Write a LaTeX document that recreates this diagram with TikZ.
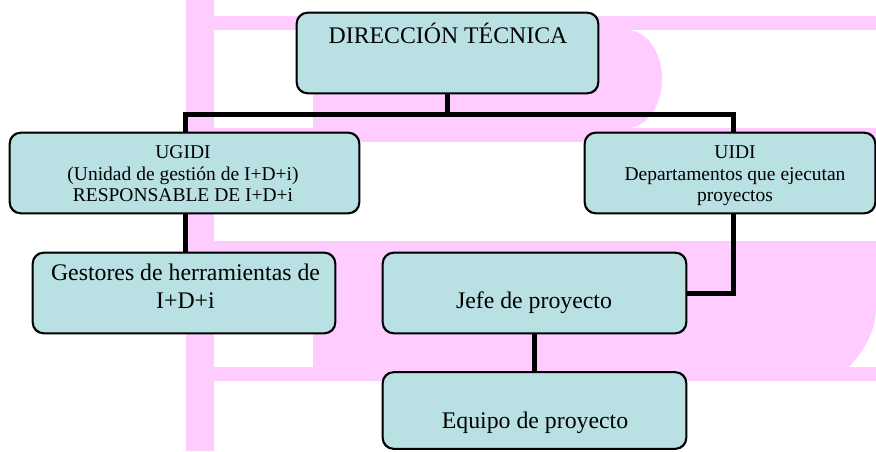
\documentclass[tikz,border=0pt]{standalone}
\usepackage{fontspec}
\setmainfont{Liberation Serif}
\definecolor{pinkbg}{RGB}{255,204,255}
\definecolor{boxfill}{RGB}{185,224,227}
\tikzset{
  box/.style={draw=black, line width=1.3pt, rounded corners=11pt, fill=boxfill, inner sep=0pt},
  conn/.style={line width=5pt, draw=black, line join=miter},
  bigtxt/.style={font=\fontsize{23.8}{28}\selectfont, inner sep=0pt, anchor=base},
  smalltxt/.style={font=\fontsize{19.5}{22}\selectfont, inner sep=0pt, anchor=base},
  wm/.style={fill=pinkbg, draw=none}
}
\begin{document}
\begin{tikzpicture}[x=1pt,y=-1pt]
\useasboundingbox (0,0) rectangle (876,451);
% watermark
\fill[wm] (186,0) rectangle (214,451);
\fill[wm] (214,16) rectangle (876,30);
\fill[wm] (214,128) rectangle (876,142);
\fill[wm] (313,30) -- (627,30) .. controls (646.3,30) and (662,51.9) .. (662,79)
   .. controls (662,106.1) and (646.3,128) .. (627,128) -- (313,128) -- cycle;
\fill[wm] (214,241) rectangle (876,255);
\fill[wm] (214,367) rectangle (876,381);
\fill[wm] (313,255) -- (876,255) -- (876,310) .. controls (875,334) and (862,353) .. (849,367) -- (313,367) -- cycle;
% boxes
\node[box, minimum width=301pt, minimum height=80pt] (dir) at (447.5,53) {};
\node[box, minimum width=349pt, minimum height=80pt] (ugidi) at (184.5,173) {};
\node[box, minimum width=290pt, minimum height=80pt] (uidi) at (730,173) {};
\node[box, minimum width=302pt, minimum height=80pt] (gest) at (184,293) {};
\node[box, minimum width=303pt, minimum height=80pt] (jefe) at (534.5,293) {};
\node[box, minimum width=303pt, minimum height=76pt] (equipo) at (534.5,410.5) {};
% connectors
\coordinate (jL) at (185,114.5);
\coordinate (jR) at (733.5,114.5);
\draw[conn] (dir.south) -- (dir.south |- jL);
\draw[conn] (jL |- ugidi.north) -- (jL) -- (jR) -- (jR |- uidi.north);
\draw[conn] (jL |- ugidi.south) -- (jL |- gest.north);
\draw[conn] (jR |- uidi.south) |- (jefe.east);
\draw[conn] (jefe.south) -- (equipo.north);
% redraw box borders above connector ends
\foreach \n in {dir,ugidi,uidi,gest,jefe,equipo}{
  \draw[line width=1.3pt, rounded corners=11pt] (\n.north west) rectangle (\n.south east);
}
% texts
\node[bigtxt] (tdir) at (448,43) {DIRECCIÓN TÉCNICA};
\node[smalltxt] (tug1) at (183,158) {UGIDI};
\node[smalltxt] (tug2) at (183,180) {(Unidad de gestión de I+D+i)};
\node[smalltxt] (tug3) at (183,201.5) {RESPONSABLE DE I+D+i};
\node[smalltxt] (tui1) at (735,158) {UIDI};
\node[smalltxt] (tui2) at (735,180) {Departamentos que ejecutan};
\node[smalltxt] (tui3) at (735,201.5) {proyectos};
\node[bigtxt] (tge1) at (185.5,280) {Gestores de herramientas de};
\node[bigtxt] (tge2) at (185.5,308) {I+D+i};
\node[bigtxt] (tje) at (534,308) {Jefe de proyecto};
\node[bigtxt] (teq) at (535,428) {Equipo de proyecto};
\end{tikzpicture}
\end{document}
